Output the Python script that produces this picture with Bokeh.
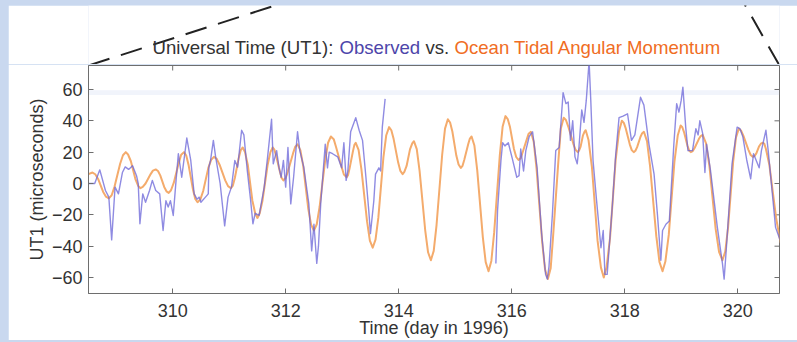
from bokeh.plotting import figure
from bokeh.models import Range1d, FixedTicker, BoxAnnotation
from bokeh.layouts import column
from bokeh.core.properties import value
from bokeh.embed import file_html
from bokeh.resources import INLINE

# ---------------------------------------------------------------- data
# Ocean tidal angular momentum prediction of UT1 (microseconds)
tidal_day = [
    308.51, 308.58, 308.63, 308.68, 308.77, 308.82, 308.87, 308.92, 308.97, 309.07,
    309.12, 309.17, 309.21, 309.26, 309.34, 309.39, 309.43, 309.47, 309.52, 309.61,
    309.65, 309.70, 309.74, 309.78, 309.85, 309.89, 309.93, 309.97, 310.02, 310.11,
    310.15, 310.20, 310.24, 310.28, 310.36, 310.40, 310.44, 310.49, 310.54, 310.63,
    310.68, 310.73, 310.78, 310.83, 310.93, 310.98, 311.03, 311.065, 311.10, 311.17,
    311.205, 311.24, 311.28, 311.33, 311.41, 311.46, 311.50, 311.54, 311.59, 311.68,
    311.73, 311.77, 311.80, 311.83, 311.90, 311.93, 311.96, 312.00, 312.04, 312.13,
    312.17, 312.21, 312.26, 312.31, 312.40, 312.45, 312.50, 312.55, 312.60, 312.70,
    312.75, 312.80, 312.85, 312.89, 312.99, 313.03, 313.08, 313.105, 313.13, 313.19,
    313.215, 313.24, 313.29, 313.34, 313.44, 313.49, 313.54, 313.59, 313.64, 313.73,
    313.78, 313.83, 313.87, 313.91, 313.99, 314.03, 314.07, 314.10, 314.14, 314.20,
    314.24, 314.27, 314.32, 314.37, 314.47, 314.52, 314.57, 314.62, 314.67, 314.77,
    314.82, 314.87, 314.91, 314.95, 315.02, 315.06, 315.10, 315.13, 315.16, 315.23,
    315.26, 315.29, 315.34, 315.39, 315.49, 315.54, 315.59, 315.64, 315.69, 315.79,
    315.84, 315.89, 315.93, 315.97, 316.04, 316.08, 316.12, 316.16, 316.19, 316.27,
    316.30, 316.34, 316.39, 316.44, 316.54, 316.59, 316.64, 316.69, 316.73, 316.83,
    316.87, 316.92, 316.96, 317.00, 317.09, 317.13, 317.17, 317.19, 317.22, 317.26,
    317.29, 317.31, 317.36, 317.42, 317.52, 317.58, 317.63, 317.68, 317.74, 317.84,
    317.90, 317.95, 317.985, 318.02, 318.09, 318.125, 318.16, 318.19, 318.22, 318.28,
    318.31, 318.34, 318.395, 318.45, 318.56, 318.615, 318.67, 318.72, 318.78, 318.88,
    318.94, 318.99, 319.02, 319.05, 319.11, 319.14, 319.17, 319.205, 319.24, 319.31,
    319.345, 319.38, 319.44, 319.50, 319.61, 319.67, 319.73, 319.78, 319.83, 319.92,
    319.97, 320.02, 320.06, 320.10, 320.19, 320.23, 320.27, 320.30, 320.33, 320.38,
    320.41, 320.44, 320.47, 320.50, 320.56, 320.62, 320.68, 320.76,
]
tidal_ut1 = [
    6, 7, 5.9, 2.9, -5.4, -8.4, -9.5, -7.5, -2.1, 12.6,
    18.0, 20, 18.5, 14.2, 2.8, -1.5, -3, -2.2, 0, 6,
    8.2, 9, 8, 5.2, -2.2, -5, -6, -4.3, 0.5, 13.5,
    18.3, 20, 17.9, 12, -4, -9.9, -12, -10.1, -4.8, 9.8,
    15.1, 17, 15.7, 12, 2, -1.7, -3, -1.3, 3.5, 16.5,
    21.3, 23, 20, 11.8, -10.8, -19, -22, -19, -10.8, 11.8,
    20, 23, 21.6, 17.8, 7.2, 3.4, 2, 3.5, 7.8, 19.2,
    23.5, 25, 21.3, 11.2, -16.2, -26.3, -30, -26, -15, 15,
    26, 30, 28.3, 23.5, 10.5, 5.7, 4, 5.5, 9.5, 20.5,
    24.5, 26, 21.5, 9.2, -24.2, -36.5, -41, -35.8, -21.8, 16.8,
    30.8, 36, 34, 28.5, 13.5, 8, 6, 7.4, 11.2, 21.8,
    25.6, 27, 21.9, 8, -30, -43.9, -49, -43, -26.5, 18.5,
    35, 41, 38.9, 33.2, 17.8, 12.1, 10, 11.3, 15, 25,
    28.7, 30, 24.2, 8.5, -34.5, -50.2, -56, -49.4, -31.2, 18.2,
    36.4, 43, 41.1, 36, 22, 16.9, 15, 16.2, 19.5, 28.5,
    31.8, 33, 26.7, 9.5, -37.5, -54.7, -61, -54.1, -35.2, 16.2,
    35.1, 42, 40.5, 36.5, 25.5, 21.5, 20, 20.9, 23.5, 30.5,
    33.1, 34, 27.7, 10.5, -36.5, -53.7, -60, -53.3, -35, 15,
    33.3, 40, 38.7, 35, 25, 21.3, 20, 20.9, 23.2, 29.8,
    32.1, 33, 27, 10.8, -33.8, -50, -56, -49.8, -32.8, 13.8,
    30.8, 37, 35.9, 32.8, 24.2, 21.1, 20, 20.7, 22.8, 28.2,
    30.3, 31, 25.6, 11, -29, -43.6, -49, -43.4, -28, 14,
    29.4, 35, 33.8, 30.5, 21.5, 18.2, 17, 17.6, 19.2, 23.8,
    25.4, 26, 25.5, 22, 12, -5, -22, -38,
]

# Observed UT1, first stretch (days 308.5 - 313.8)
obs1_day = [
    308.51, 308.62, 308.71, 308.81, 308.87, 308.92, 308.98, 309.04, 309.11, 309.16,
    309.22, 309.29, 309.36, 309.39, 309.42, 309.47, 309.52, 309.59, 309.64, 309.70,
    309.77, 309.83, 309.88, 309.92, 309.96, 310.01, 310.05, 310.10, 310.16, 310.25,
    310.32, 310.38, 310.43, 310.47, 310.50, 310.58, 310.63, 310.64, 310.67, 310.72,
    310.76, 310.84, 310.92, 310.98, 311.04, 311.10, 311.15, 311.22, 311.26, 311.32,
    311.38, 311.42, 311.46, 311.53, 311.62, 311.68, 311.75, 311.78, 311.84, 311.88,
    311.92, 311.96, 312.00, 312.04, 312.09, 312.14, 312.21, 312.25, 312.32, 312.41,
    312.46, 312.50, 312.55, 312.58, 312.62, 312.70, 312.74, 312.77, 312.83, 312.92,
    312.99, 313.03, 313.07, 313.10, 313.15, 313.24, 313.30, 313.36, 313.42, 313.47,
    313.50, 313.56, 313.59, 313.65, 313.68, 313.71, 313.76,
]
obs1_ut1 = [
    0, 0, 8.7, -4.5, -8.7, -36, -2.3, -6.6, 7, 10.6,
    9, 11.3, 5, 0, -25.7, -6.6, -12, -4.5, 2, -4.5,
    -6.6, -30, -11, -15, -11, -20.4, -2.3, 19, 4, 29,
    14.7, -6.6, -10, -8.7, -12, -8.7, -6.6, 10.4, 14.7, 27.5,
    17, 0, -27, -8.7, -2.3, 14.7, 10.4, 34, 31, 8.3,
    -11, -25.7, -19, -20.4, -2.3, 17, 41, 12.6, 21, 10.4,
    4, 14.7, -2.3, 23, -13, 4, 33, 21, 10.4, -13,
    -43, -26, -51, -40, -13, 25, 10, 20, 19, 17,
    10, 26, 2, 8, 33, 42, 34, 27.5, 4, -17,
    -32, -11, 6, 10, 8, 36, 54,
]

# Observed UT1, second stretch (days 315.7 - 320.8)
obs2_day = [
    315.72, 315.75, 315.81, 315.84, 315.88, 315.94, 316.01, 316.09, 316.13, 316.16,
    316.21, 316.25, 316.31, 316.37, 316.45, 316.53, 316.60, 316.63, 316.66, 316.72,
    316.78, 316.84, 316.91, 316.96, 317.00, 317.04, 317.08, 317.12, 317.16, 317.19,
    317.24, 317.28, 317.32, 317.37, 317.40, 317.44, 317.50, 317.58, 317.62, 317.65,
    317.69, 317.78, 317.84, 317.90, 317.97, 318.05, 318.12, 318.18, 318.28, 318.34,
    318.43, 318.52, 318.58, 318.64, 318.67, 318.73, 318.79, 318.87, 318.92, 318.96,
    319.00, 319.03, 319.08, 319.12, 319.20, 319.26, 319.30, 319.33, 319.38, 319.42,
    319.45, 319.52, 319.64, 319.73, 319.76, 319.80, 319.90, 319.99, 320.04, 320.09,
    320.16, 320.23, 320.28, 320.38, 320.42, 320.50, 320.54, 320.62, 320.67, 320.75,
]
obs2_ut1 = [
    -51, -17, 14.7, 26, 24, 26, 16, 4, 5, 22,
    8, 21, 30, 33, 10, -32, -58, -61, -53, -20,
    21, 23, 58, 51, 52, 27.5, 40, 17, 12.6, 23,
    47, 39, 53, 78, 53, 14.7, -10, -41, -30, -58,
    -58, -15, 18, 42, 43, 44.5, 27.5, 31, 55, 50,
    25, 6, -20, -49, -30, -26, -24, 25, 51, 45.5,
    53, 61.5, 36, 21, 21, 35, 31, 40, 32, 7,
    25, 8, -28, -51, -61, -41, 12.6, 36, 35, 30,
    15, 3, 19, 10, 21, 34, 21, -9, -28, -36,
]

x_ticks = [310, 312, 314, 316, 318, 320]
y_ticks = [-60, -40, -20, 0, 20, 40, 60]

title_text = ["Universal Time (UT1):", "Observed", "vs.", "Ocean Tidal Angular Momentum"]

# ---------------------------------------------------------------- styling
FONT = "Liberation Sans"
TEXT = "#333333"
AXIS = "#6e6e6e"
ORANGE_LINE = "#f4ab6c"
BLUE_LINE = "#6a64d8"
TITLE_BLUE = "#4d45aa"
TITLE_ORANGE = "#f06d23"
PANEL_BLUE = "#c9d8ef"

PAGE_W, PAGE_H = 797, 342
PAD_L, PAD_T, PAD_B = 8, 5, 2          # light-blue page edges
HEAD_H = 59                            # strip above the chart box
FIG_W = PAGE_W - PAD_L
FIG_H = PAGE_H - PAD_T - PAD_B - HEAD_H
BORDER_L, BORDER_R, BORDER_T, BORDER_B = 80, 18, 1, 47
X0, X1 = 308.51, 320.74
Y0, Y1 = -70.2, 75.3

# ---------------------------------------------------------------- main chart
p = figure(
    width=FIG_W, height=FIG_H,
    x_range=Range1d(X0, X1), y_range=Range1d(Y0, Y1),
    output_backend="svg", toolbar_location=None,
    min_border_left=BORDER_L, min_border_right=BORDER_R,
    min_border_top=BORDER_T, min_border_bottom=BORDER_B,
    background_fill_color="white", border_fill_color="white",
    outline_line_color=AXIS,
)
p.margin = (0, 0, PAD_B, PAD_L)
p.xgrid.grid_line_color = None
p.ygrid.grid_line_color = None

TICK_LEN = 5
for ax, ticks in ((p.xaxis[0], x_ticks), (p.yaxis[0], y_ticks)):
    ax.ticker = FixedTicker(ticks=ticks)
    ax.minor_tick_line_color = None
    ax.major_tick_in = TICK_LEN
    ax.major_tick_out = 0
    ax.axis_line_color = AXIS
    ax.major_tick_line_color = AXIS
    ax.major_label_text_font = FONT
    ax.major_label_text_font_size = "18px"
    ax.major_label_text_color = TEXT
    ax.axis_label_text_font = FONT
    ax.axis_label_text_font_size = "18px"
    ax.axis_label_text_font_style = "normal"
    ax.axis_label_text_color = TEXT

p.xaxis[0].axis_label = "Time (day in 1996)"
p.xaxis[0].major_label_standoff = 10
p.xaxis[0].axis_label_standoff = -2
p.yaxis[0].axis_label = "UT1 (microseconds)"
p.yaxis[0].major_label_standoff = 6
p.yaxis[0].axis_label_standoff = 2

# inward ticks along the top and right edges of the box
frame_w = FIG_W - BORDER_L - BORDER_R
frame_h = FIG_H - BORDER_T - BORDER_B
dx_tick = TICK_LEN * (X1 - X0) / frame_w
dy_tick = TICK_LEN * (Y1 - Y0) / frame_h
p.segment(x0=x_ticks, y0=[Y1] * len(x_ticks), x1=x_ticks, y1=[Y1 - dy_tick] * len(x_ticks),
          line_color=AXIS, line_width=1)
p.segment(x0=[X1] * len(y_ticks), y0=y_ticks, x1=[X1 - dx_tick] * len(y_ticks), y1=y_ticks,
          line_color=AXIS, line_width=1)

# faint band across the upper part of the box
p.add_layout(BoxAnnotation(bottom=56.5, top=59.5, fill_color="#c7d4ef",
                           fill_alpha=0.25, line_color=None, level="underlay"))

# curves
p.line(tidal_day, tidal_ut1, line_color=ORANGE_LINE, line_width=2, line_join="round")
p.line(obs1_day, obs1_ut1, line_color=BLUE_LINE, line_width=1.4, line_alpha=0.75, line_join="round")
p.line(obs2_day, obs2_ut1, line_color=BLUE_LINE, line_width=1.4, line_alpha=0.75, line_join="round")

# ---------------------------------------------------------------- heading strip
# Column layouts line up the plot frames, so the heading's frame spans the
# same horizontal extent as the chart box; its ranges are in page pixels.
box_left = PAD_L + BORDER_L
box_right = PAGE_W - BORDER_R
box_top = PAD_T + HEAD_H + BORDER_T

head = figure(
    width=FIG_W, height=HEAD_H,
    x_range=Range1d(box_left, box_right), y_range=Range1d(PAD_T + HEAD_H, PAD_T),
    x_axis_type=None, y_axis_type=None,
    output_backend="svg", toolbar_location=None,
    min_border_left=BORDER_L, min_border_right=BORDER_R,
    min_border_top=0, min_border_bottom=0,
    outline_line_color=None,
    background_fill_color="white", border_fill_color="white",
)
head.margin = (PAD_T, 0, 0, PAD_L)
head.grid.visible = False

# dashed guides rising from the upper corners of the chart box
head.line([box_left, 290], [box_top, 0], line_color="#222222", line_width=2, line_dash="22 12")
head.line([box_right, 742], [box_top, 0], line_color="#222222", line_width=2, line_dash="22 12")

# multi-coloured heading
head.text(x=[152, 339, 425, 454], y=[47, 47, 47, 47], text=title_text,
          text_color=[TEXT, TITLE_BLUE, TEXT, TITLE_ORANGE],
          text_font=value(FONT), text_font_size="18.6px",
          text_baseline="middle", text_align="left")

page = column(head, p, spacing=0, styles={"background-color": PANEL_BLUE})
open("out.html", "w").write(file_html(page, INLINE))
